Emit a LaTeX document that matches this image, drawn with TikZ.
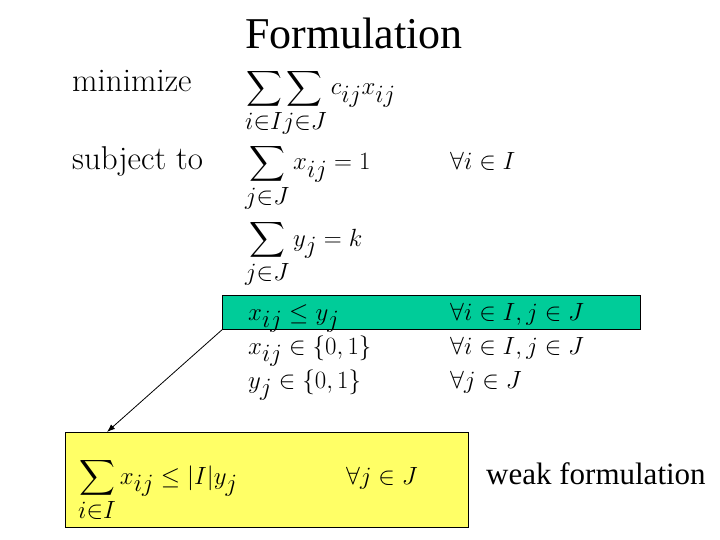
\documentclass[tikz,border=0pt]{standalone}
\usetikzlibrary{arrows.meta}
\usepackage{fontspec}
\newfontfamily\tnr{Liberation Serif}
\usepackage{amsmath}
\begin{document}
\begin{tikzpicture}[x=1pt,y=-1pt,
  t/.style={anchor=base west,inner sep=0pt,font=\fontsize{33}{38}\selectfont},
  box/.style={draw=black,line width=0.8pt}]
\useasboundingbox (0,0) rectangle (720,540);
\fill[white] (0,0) rectangle (720,540);
\node[box,fill={rgb,255:red,0;green,204;blue,153},minimum width=418,minimum height=34,anchor=north west,inner sep=0pt] (g) at (222,295) {};
\node[box,fill={rgb,255:red,255;green,255;blue,102},minimum width=403,minimum height=95,anchor=north west,inner sep=0pt] (yb) at (65,432) {};
\node[anchor=base,inner sep=0pt,font=\tnr\fontsize{44}{48}\selectfont] (title) at (354,49) {Formulation};
\node[t] (l1) at (72,92) {minimize};
\node[t] (m1) at (245,95) {$\displaystyle\sum_{i\in I}\!\sum_{j\in J} c_{ij}x_{ij}$};
\node[t] (l2) at (72,170) {subject to};
\node[t] (m2) at (245,170) {$\displaystyle\sum_{j\in J} x_{ij}=1$};
\node[t] (f2) at (450,170) {$\forall i\in I$};
\node[t] (m3) at (245,246) {$\displaystyle\sum_{j\in J} y_{j}=k$};
\node[t] (m4) at (248,320) {$x_{ij}\le y_j$};
\node[t] (f4) at (450,320) {$\forall i\in I, j\in J$};
\node[t] (m5) at (248,354) {$x_{ij}\in\{0,1\}$};
\node[t] (f5) at (450,354) {$\forall i\in I, j\in J$};
\node[t] (m6) at (248,388) {$y_{j}\in\{0,1\}$};
\node[t] (f6) at (450,388) {$\forall j\in J$};
\node[t] (w) at (78,484) {$\displaystyle\sum_{i\in I} x_{ij}\le |I|y_j$};
\node[t] (wf) at (346,484) {$\forall j\in J$};
\node[anchor=base west,inner sep=0pt,font=\tnr\fontsize{31}{35}\selectfont] (wl) at (486,484) {weak formulation};
\draw[-{Latex[length=8pt]},line width=0.8pt] (g.south west) -- (107,432);
\end{tikzpicture}
\end{document}
